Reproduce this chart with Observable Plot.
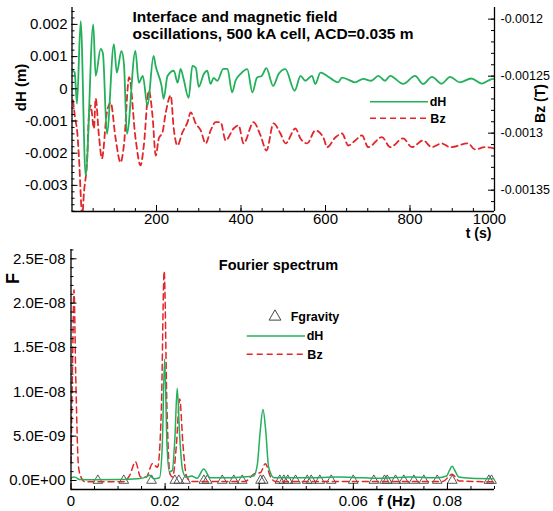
<!DOCTYPE html>
<html><head><meta charset="utf-8">
<script src="https://cdn.jsdelivr.net/npm/d3@7"></script>
<script src="https://cdn.jsdelivr.net/npm/@observablehq/plot@0.6"></script>
<style>
body{margin:0;background:#fff;}
#wrap{position:relative;width:553px;height:511px;overflow:hidden;background:#fff;}
#top,#bot{position:absolute;left:0;}
#top{top:0;z-index:2;} #bot{top:240px;z-index:1;}
</style></head><body>
<div id="wrap"><div id="top"></div><div id="bot"></div></div>
<script>
// ---------------- Top panel data: time series ----------------
const dHTime = [2.4, 6.4, 11.8, 20.5, 32.3, 50.3, 56, 67.8, 73.2, 82.6, 99.2, 106, 117, 123, 130, 150, 158, 167.6, 178.7, 193, 198, 212, 217, 226, 241, 250, 257, 264, 276, 285, 293, 300, 312, 320, 328, 335, 344, 358, 368, 379, 387, 399, 415, 427, 438, 449, 460, 476, 489, 505, 527, 541, 552, 568, 576, 588, 604, 615, 630, 639, 655, 670, 689, 708, 725, 741, 753, 784, 812, 831, 852, 875, 895, 918, 945, 970, 993, 1000];
const dHValue = [0.00056, 0.00050, -0.00046, 0.00210, -0.00270, 0.00200, 0.00040, 0.00124, 0.00110, -0.00140, 0.00139, 0.00050, 0.00118, 0.00077, -0.00140, 0.00118, 0.00019, 0.00040, -0.00053, 0.00102, 0.00071, 0.00009, -0.00031, 0.00040, 0.00056, 0.00019, 0.00062, 0.00031, -0.00028, 0.00071, 0.00065, 0.00006, 0.00046, 0.00056, 0.00015, 0.00034, 0.00025, 0.00062, 0.00062, -0.00011, 0.00025, 0.00046, 0.00061, -0.00011, 0.00035, 0.00040, 0.00064, 0.00009, 0.00046, 0.00061, -0.00006, 0.00040, 0.00025, 0.00040, 0.00015, 0.00050, 0.00040, 0.00030, 0.00020, 0.00035, 0.00028, 0.00020, 0.00031, 0.00025, 0.00040, 0.00025, 0.00040, 0.00015, 0.00040, 0.00015, 0.00037, 0.00016, 0.00037, 0.00020, 0.00032, 0.00016, 0.00030, 0.00031];
const bzTime = [2.4, 7.1, 12.5, 16.5, 24.3, 28.3, 35.4, 40.1, 44.2, 51.9, 56, 63.7, 70.8, 82.6, 91.4, 103.2, 115, 122.8, 135.3, 150.4, 162.2, 170, 181.8, 190.5, 198.3, 205.4, 214.1, 222, 233.7, 240.8, 249.6, 261.4, 273.2, 281, 292.8, 304.6, 316.4, 328.2, 340, 351.8, 363.6, 382.5, 394.3, 406.1, 429.7, 446.2, 460.4, 476.9, 493.4, 505.3, 528.9, 540.7, 556.5, 576.1, 595, 603.7, 623.3, 639.1, 654, 670.5, 686.3, 701.2, 733.6, 753.2, 783.9, 804.4, 831.1, 851.6, 875.2, 894.8, 937.3, 953.8, 977.5, 998.7];
const bzValue = [-0.0012713, -0.0012862, -0.0012994, -0.0013213, -0.0013720, -0.0013520, -0.0013257, -0.0012845, -0.0012757, -0.0012959, -0.0012696, -0.0013020, -0.0013222, -0.0012818, -0.0012731, -0.0013046, -0.0013257, -0.0013108, -0.0012509, -0.0013046, -0.0013283, -0.0013108, -0.0012626, -0.0012845, -0.0013196, -0.0013046, -0.0012994, -0.0012818, -0.0012669, -0.0012959, -0.0013108, -0.0012994, -0.0012906, -0.0012818, -0.0012915, -0.0012976, -0.0013090, -0.0012976, -0.0012904, -0.0012904, -0.0013064, -0.0012959, -0.0012932, -0.0013090, -0.0012904, -0.0013020, -0.0013152, -0.0012915, -0.0013003, -0.0013090, -0.0012959, -0.0013046, -0.0013090, -0.0012976, -0.0013038, -0.0013123, -0.0013038, -0.0013003, -0.0013108, -0.0013064, -0.0013020, -0.0013123, -0.0013035, -0.0013123, -0.0013046, -0.0013123, -0.0013064, -0.0013123, -0.0013090, -0.0013123, -0.0013090, -0.0013143, -0.0013123, -0.0013134];

const tTicks = [200, 400, 600, 800, 1000];
const tTickLabels = ["200", "400", "600", "800", "1000"];
const dHTicks = [0.002, 0.001, 0, -0.001, -0.002, -0.003];
const dHTickLabels = ["0.002", "0.001", "0", "-0.001", "-0.002", "-0.003"];
const bzTicks = [-0.0012, -0.00125, -0.0013, -0.00135];
const bzTickLabels = ["-0.0012", "-0.00125", "-0.0013", "-0.00135"];

// ---------------- Bottom panel data: Fourier spectrum ----------------
const specFreqDH = [0, 0.0005, 0.001, 0.0018, 0.005, 0.01, 0.014, 0.0158, 0.0167, 0.0176, 0.0188, 0.0194, 0.0199, 0.0204, 0.0209, 0.0215, 0.0221, 0.02257, 0.0231, 0.0237, 0.0245, 0.0256, 0.0268, 0.0282, 0.0296, 0.033, 0.0365, 0.0388, 0.0396, 0.0402, 0.0408, 0.0414, 0.042, 0.0432, 0.05, 0.057, 0.06, 0.066, 0.072, 0.078, 0.0798, 0.0804, 0.081, 0.0816, 0.0824, 0.085, 0.09];
const specAmpDH = [0.25e-9, 0.4e-9, 0.35e-9, 0.1e-9, 0.08e-9, 0.1e-9, 0.2e-9, 0.35e-9, 0.6e-9, 0.2e-9, 0.3e-9, 4e-9, 13.7e-9, 4e-9, 1.0e-9, 1.1e-9, 5e-9, 10.4e-9, 5e-9, 1.2e-9, 0.35e-9, 0.5e-9, 0.25e-9, 1.3e-9, 0.3e-9, 0.3e-9, 0.4e-9, 0.5e-9, 1.8e-9, 5.5e-9, 8.0e-9, 5.5e-9, 1.5e-9, 0.3e-9, 0.3e-9, 0.4e-9, 0.35e-9, 0.25e-9, 0.4e-9, 0.3e-9, 0.5e-9, 1.1e-9, 1.6e-9, 1.1e-9, 0.4e-9, 0.25e-9, 0.2e-9];
const specFreqBz = [0, 0.0003, 0.00064, 0.001, 0.0016, 0.0022, 0.003, 0.011, 0.0125, 0.0137, 0.0148, 0.016, 0.0173, 0.0184, 0.0192, 0.0198, 0.0204, 0.021, 0.0216, 0.0224, 0.0231, 0.0238, 0.0245, 0.0255, 0.037, 0.0389, 0.0403, 0.0413, 0.0424, 0.0435, 0.079, 0.081, 0.0825, 0.09];
const specAmpBz = [2e-9, 12e-9, 21.5e-9, 12e-9, 1.5e-9, 0.3e-9, -0.15e-9, -0.15e-9, 0.6e-9, 2.1e-9, 0.4e-9, 0.4e-9, 1.9e-9, 1.5e-9, 8e-9, 23.6e-9, 8e-9, 0.8e-9, 0.4e-9, 4e-9, 9.2e-9, 4e-9, 0.6e-9, -0.1e-9, -0.1e-9, 0.75e-9, 0.9e-9, 1.9e-9, 0.4e-9, -0.1e-9, -0.1e-9, 0.7e-9, -0.05e-9, -0.15e-9];
const fGravity = [0.0057, 0.01122, 0.01711, 0.02206, 0.02291, 0.02434, 0.02823, 0.02895, 0.03214, 0.0346, 0.03639, 0.04028, 0.04085, 0.04438, 0.04523, 0.04608, 0.04772, 0.0502, 0.05105, 0.05288, 0.0553, 0.05998, 0.06436, 0.06663, 0.06721, 0.06897, 0.07073, 0.07286, 0.07498, 0.07783, 0.08102, 0.0888, 0.08937];

const fTicks = [0, 0.02, 0.04, 0.06, 0.08];
const fTickLabels = ["0", "0.02", "0.04", "0.06", "0.08"];
const FTicks = [0, 5e-9, 1e-8, 1.5e-8, 2e-8, 2.5e-8];
const FTickLabels = ["0.0E+00", "5.0E-09", "1.0E-08", "1.5E-08", "2.0E-08", "2.5E-08"];

// ---------------- styling ----------------
const GREEN = "#22b05a", RED = "#e3262a", TRI = "#444";
const FONT = "'Liberation Sans', Arial, Helvetica, sans-serif";
const W = 553;

// ================= TOP PLOT =================
const TH = 240, tM = {top: 7, right: 59, bottom: 29, left: 71.5};
const tPW = W - tM.left - tM.right, tPH = TH - tM.top - tM.bottom;
const xDomTop = [0, 1000];
const yDomTop = [-0.003811, 0.002525];
const bzDom = [-0.0013687, -0.0011898];
const bzY = v => yDomTop[0] + (v - bzDom[0]) * (yDomTop[1] - yDomTop[0]) / (bzDom[1] - bzDom[0]);

const dHRows = dHTime.map((t, i) => ({t, v: dHValue[i]}));
const bzRows = bzTime.map((t, i) => ({t, v: bzValue[i]}));
const dHMinor = d3.range(-38, 26, 2).map(k => k * 1e-4);
const bzMinor = d3.range(-136, -119, 1).map(k => k * 1e-5);
const tMinor = d3.range(50, 1001, 50);
const lastT = tTicks.length - 1;

function topLegend() {
  const g = d3.create("svg:g").attr("font-family", FONT);
  g.append("line").attr("x1", 370).attr("x2", 428).attr("y1", 101.7).attr("y2", 101.7)
    .attr("stroke", GREEN).attr("stroke-width", 1.6);
  g.append("line").attr("x1", 370).attr("x2", 428).attr("y1", 118.3).attr("y2", 118.3)
    .attr("stroke", RED).attr("stroke-width", 1.6).attr("stroke-dasharray", "6,4");
  g.append("text").attr("x", 438).attr("y", 101.7).attr("dy", "0.35em").attr("font-size", 12.5)
    .attr("font-weight", "bold").text("dH");
  g.append("text").attr("x", 438).attr("y", 118.3).attr("dy", "0.35em").attr("font-size", 12.5)
    .attr("font-weight", "bold").text("Bz");
  return g.node();
}

const topPlot = Plot.plot({
  width: W, height: TH,
  marginTop: tM.top, marginRight: tM.right, marginBottom: tM.bottom, marginLeft: tM.left,
  x: {domain: xDomTop, axis: null},
  y: {domain: yDomTop, axis: null},
  style: {fontFamily: FONT, background: "none", overflow: "visible", color: "#000"},
  marks: [
    Plot.line(bzRows, {x: "t", y: d => bzY(d.v), stroke: RED, strokeWidth: 1.8, strokeDasharray: "6,4", curve: "monotone-x", clip: true}),
    Plot.line(dHRows, {x: "t", y: "v", stroke: GREEN, strokeWidth: 1.8, curve: "monotone-x", clip: true}),
    // axis lines
    Plot.ruleX([xDomTop[0]], {strokeWidth: 1.3}),
    Plot.ruleX([xDomTop[1]], {strokeWidth: 1.3}),
    Plot.ruleY([yDomTop[0]], {strokeWidth: 1.3}),
    // inward ticks
    Plot.tickY(dHMinor, {y: d => d, insetRight: tPW - 3}),
    Plot.tickY(dHTicks, {y: d => d, insetRight: tPW - 6}),
    Plot.tickY(bzMinor, {y: d => bzY(d), insetLeft: tPW - 3}),
    Plot.tickY(bzTicks, {y: d => bzY(d), insetLeft: tPW - 6}),
    Plot.tickX(tMinor, {x: d => d, insetTop: tPH - 3}),
    Plot.tickX(tTicks, {x: d => d, insetTop: tPH - 6}),
    // tick labels
    Plot.text(dHTicks, {y: d => d, text: (d, i) => dHTickLabels[i], frameAnchor: "left", textAnchor: "end", dx: -4.5, fontSize: 15, lineAnchor: "middle"}),
    Plot.text(bzTicks, {y: d => bzY(d), text: (d, i) => bzTickLabels[i], frameAnchor: "right", textAnchor: "start", dx: 6, fontSize: 12.5, lineAnchor: "middle"}),
    Plot.text(tTicks.slice(0, lastT), {x: d => d, text: (d, i) => tTickLabels[i], frameAnchor: "bottom", dy: 8, fontSize: 15, lineAnchor: "middle"}),
    Plot.text(tTicks.slice(lastT), {x: d => d, text: () => tTickLabels[lastT], frameAnchor: "bottom", dy: 8, dx: -5, fontSize: 15, lineAnchor: "middle"}),
    // axis titles
    Plot.text(["dH (m)"], {frameAnchor: "top-left", dx: 21 - tM.left, dy: 87 - tM.top, rotate: -90, fontSize: 15, fontWeight: "bold", textAnchor: "middle", lineAnchor: "middle"}),
    Plot.text(["Bz (T)"], {frameAnchor: "top-right", dx: 540 - (W - tM.right), dy: 103 - tM.top, rotate: -90, fontSize: 14, fontWeight: "bold", textAnchor: "middle", lineAnchor: "middle"}),
    Plot.text(["t (s)"], {frameAnchor: "bottom-right", dx: -16, dy: 22.5, fontSize: 14, fontWeight: "bold", textAnchor: "middle", lineAnchor: "middle"}),
    // title
    Plot.text(["Interface and magnetic field"], {frameAnchor: "top-left", dx: 132 - tM.left, dy: 16.7 - tM.top, textAnchor: "start", lineAnchor: "middle", fontSize: 15.5, fontWeight: "bold"}),
    Plot.text(["oscillations, 500 kA cell, ACD=0.035 m"], {frameAnchor: "top-left", dx: 132 - tM.left, dy: 33.3 - tM.top, textAnchor: "start", lineAnchor: "middle", fontSize: 15.5, fontWeight: "bold"}),
    topLegend
  ]
});
document.getElementById("top").appendChild(topPlot);

// ================= BOTTOM PLOT =================
const BH = 271, bM = {top: 9, right: 59, bottom: 22, left: 70.5};
const bPW = W - bM.left - bM.right, bPH = BH - bM.top - bM.bottom;
const xDomBot = [0, 0.09];
const yDomBot = [-1.015e-9, 2.605e-8];
const dHSpec = specFreqDH.map((f, i) => ({f, a: specAmpDH[i]}));
const bzSpec = specFreqBz.map((f, i) => ({f, a: specAmpBz[i]}));
const fMinor = d3.range(1, 19).map(k => k * 0.005);
const FMinor = d3.range(-1, 27).map(k => k * 1e-9);

function botLegend() {
  const g = d3.create("svg:g").attr("font-family", FONT);
  g.append("path").attr("d", d3.symbol(d3.symbolTriangle, Math.PI * 4.4 * 4.4)())
    .attr("transform", "translate(275,76.7)").attr("fill", "none").attr("stroke", TRI).attr("stroke-width", 1);
  g.append("line").attr("x1", 246.7).attr("x2", 305).attr("y1", 96).attr("y2", 96)
    .attr("stroke", GREEN).attr("stroke-width", 1.5);
  g.append("line").attr("x1", 246.7).attr("x2", 305).attr("y1", 114.3).attr("y2", 114.3)
    .attr("stroke", RED).attr("stroke-width", 1.5).attr("stroke-dasharray", "6,4");
  [["Fgravity", 77], ["dH", 96], ["Bz", 114.3]].forEach(([t, y]) => {
    g.append("text").attr("x", 315).attr("y", y).attr("dy", "0.35em").attr("font-size", 12.5)
      .attr("font-weight", "bold").text(t);
  });
  return g.node();
}

const botPlot = Plot.plot({
  width: W, height: BH,
  marginTop: bM.top, marginRight: bM.right, marginBottom: bM.bottom, marginLeft: bM.left,
  x: {domain: xDomBot, axis: null},
  y: {domain: yDomBot, axis: null},
  style: {fontFamily: FONT, background: "none", overflow: "visible", color: "#000"},
  marks: [
    Plot.dot(fGravity, {x: d => d, y: 0, symbol: "triangle", r: 3.6, stroke: TRI, fill: "none", strokeWidth: 0.9}),
    Plot.line(bzSpec, {x: "f", y: "a", stroke: RED, strokeWidth: 1.5, strokeDasharray: "6,4", curve: "monotone-x", clip: true}),
    Plot.line(dHSpec, {x: "f", y: "a", stroke: GREEN, strokeWidth: 1.5, curve: "monotone-x", clip: true}),
    Plot.ruleX([xDomBot[0]], {strokeWidth: 1.3}),
    Plot.ruleY([yDomBot[0]], {strokeWidth: 1.3}),
    Plot.tickY(FMinor, {y: d => d, insetRight: bPW - 3}),
    Plot.tickY(FTicks, {y: d => d, insetRight: bPW - 6}),
    Plot.tickX(fMinor, {x: d => d, insetTop: bPH - 3}),
    Plot.tickX(fTicks, {x: d => d, insetTop: bPH - 6}),
    Plot.text(FTicks, {y: d => d, text: (d, i) => FTickLabels[i], frameAnchor: "left", textAnchor: "end", dx: -5.5, fontSize: 15, lineAnchor: "middle"}),
    Plot.text(fTicks, {x: d => d, text: (d, i) => fTickLabels[i], frameAnchor: "bottom", dy: 11.5, fontSize: 15, lineAnchor: "middle"}),
    Plot.text(["F"], {frameAnchor: "top-left", dx: 13 - bM.left, dy: 38 - bM.top, rotate: -90, fontSize: 18, fontWeight: "bold", textAnchor: "middle", lineAnchor: "middle"}),
    Plot.text(["f (Hz)"], {frameAnchor: "bottom-left", dx: 396 - bM.left, dy: 11.5, fontSize: 15, fontWeight: "bold", textAnchor: "middle", lineAnchor: "middle"}),
    Plot.text(["Fourier spectrum"], {frameAnchor: "top-left", dx: 218.3 - bM.left, dy: 25 - bM.top, textAnchor: "start", lineAnchor: "middle", fontSize: 14.5, fontWeight: "bold"}),
    botLegend
  ]
});
document.getElementById("bot").appendChild(botPlot);
</script>
</body></html>
